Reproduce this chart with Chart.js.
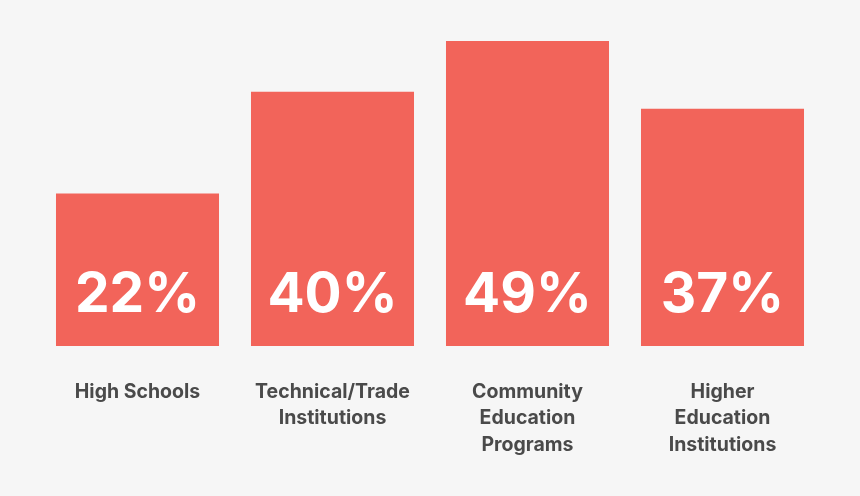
<!DOCTYPE html>
<html>
<head>
<meta charset="utf-8">
<script src="https://cdn.jsdelivr.net/npm/chart.js@4"></script>
<style>
  html, body { margin: 0; padding: 0; background: #f6f6f6; }
  #wrap { width: 860px; height: 496px; }
</style>
</head>
<body>
<div id="wrap"><canvas id="chart" width="860" height="496"></canvas></div>
<script>
const categories = [
    ["High Schools"],
    ["Technical/Trade", "Institutions"],
    ["Community", "Education", "Programs"],
    ["Higher", "Education", "Institutions"]
];
const percentages = [22, 40, 49, 37];

const barColor = "#f2645a";
const textColor = "#4a4a4a";

// big white numbers inside each bar
const valueLabels = {
    id: "valueLabels",
    afterDatasetsDraw(chart) {
        const ctx = chart.ctx;
        const meta = chart.getDatasetMeta(0);
        ctx.save();
        ctx.fillStyle = "#ffffff";
        ctx.font = "bold 55px Inter";
        ctx.textAlign = "center";
        ctx.textBaseline = "middle";
        meta.data.forEach((bar, i) => {
            ctx.fillText(percentages[i] + "%", bar.x, chart.chartArea.bottom - 51);
        });
        ctx.restore();
    }
};

const chart = new Chart(document.getElementById("chart"), {
    type: "bar",
    data: {
        labels: categories,
        datasets: [{
            data: percentages,
            backgroundColor: barColor,
            borderWidth: 0,
            base: -5,
            barPercentage: 0.836,
            categoryPercentage: 1
        }]
    },
    options: {
        responsive: false,
        animation: false,
        layout: { padding: { top: 41, left: 40, right: 40, bottom: 0 } },
        plugins: { legend: { display: false }, tooltip: { enabled: false } },
        scales: {
            y: { display: false, min: -5, max: 49 },
            x: {
                grid: { display: false, drawTicks: false },
                border: { display: false },
                afterFit: s => { s.height = 150; },
                ticks: {
                    color: textColor,
                    padding: 33,
                    maxRotation: 0,
                    autoSkip: false,
                    font: { family: "Inter", weight: "bold", size: 19.5, lineHeight: 1.35 }
                }
            }
        }
    },
    plugins: [valueLabels]
});
</script>
</body>
</html>
